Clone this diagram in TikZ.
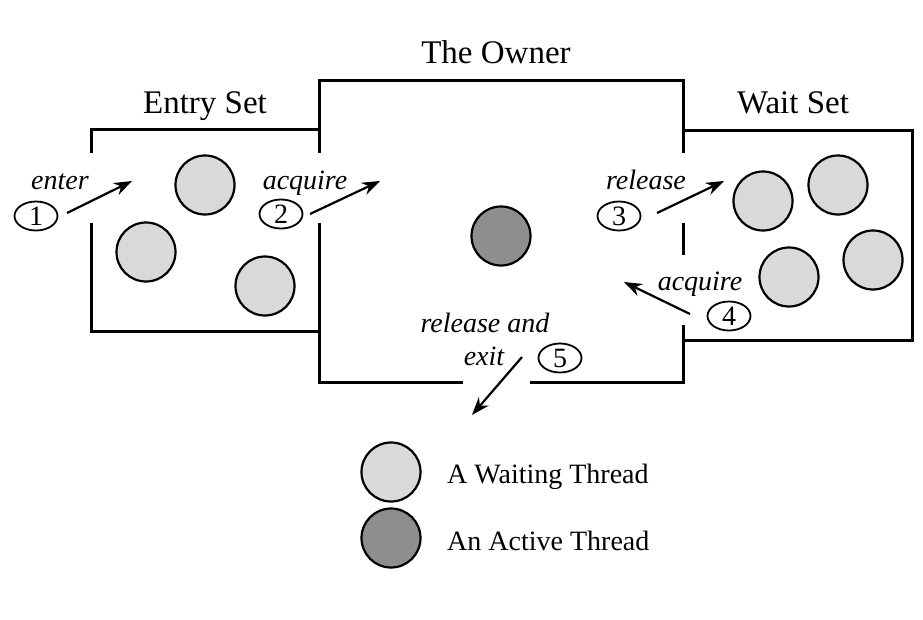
\documentclass[tikz,border=0pt]{standalone}
\usepackage{fontspec}
\setmainfont{Liberation Serif}
\usetikzlibrary{arrows.meta,shapes.geometric}
\definecolor{waitfill}{HTML}{D9D9D9}
\definecolor{activefill}{HTML}{8E8E8E}
\tikzset{
  boxline/.style={line width=3pt, line cap=butt},
  thread/.style={circle, draw, line width=2.2pt, minimum size=59pt, inner sep=0pt},
  waiting/.style={thread, fill=waitfill},
  active/.style={thread, fill=activefill},
  numtag/.style={ellipse, draw, line width=1.8pt, minimum width=43pt, minimum height=29pt, inner sep=0pt, font=\fontsize{28}{30}\selectfont},
  lbl/.style={font=\fontsize{28}{30}\selectfont\itshape, inner sep=0pt, anchor=base},
  header/.style={font=\fontsize{33}{36}\selectfont, inner sep=0pt, anchor=base},
  legendtxt/.style={font=\fontsize{28}{30}\selectfont, inner sep=0pt, anchor=base west},
  flow/.style={line width=2.2pt, -{Stealth[length=18pt,width=13pt]}}
}
\begin{document}
\begin{tikzpicture}[x=1pt,y=-1pt]
\useasboundingbox (0,0) rectangle (923,619);
% boxes
\draw[boxline] (319,129) -- (91,129) -- (91,153);
\draw[boxline] (91,223) -- (91,331) -- (319,331);
\draw[boxline] (319,153) -- (319,80) -- (683,80) -- (683,153);
\draw[boxline] (683,223) -- (683,255);
\draw[boxline] (683,325) -- (683,382) -- (530,382);
\draw[boxline] (463,382) -- (319,382) -- (319,223);
\draw[boxline] (683,130) -- (912,130) -- (912,340) -- (683,340);
% headers
\node[header] (hEntry) at (205,113) {Entry Set};
\node[header] (hOwner) at (496,63) {The Owner};
\node[header] (hWait) at (793,113) {Wait Set};
% threads
\node[waiting] (e1) at (205,185) {};
\node[waiting] (e2) at (146,252) {};
\node[waiting] (e3) at (265,286) {};
\node[active] (o1) at (501,236) {};
\node[waiting] (w1) at (763,201) {};
\node[waiting] (w2) at (838,185) {};
\node[waiting] (w3) at (873,260) {};
\node[waiting] (w4) at (789,277) {};
% labels and tags
\node[lbl] (tEnter) at (60,189) {enter};
\node[numtag] (n1) at (36,216) {1};
\node[lbl] (tAcq2) at (305,189) {acquire};
\node[numtag] (n2) at (281,214) {2};
\node[lbl] (tRel3) at (646,189) {release};
\node[numtag] (n3) at (619,216) {3};
\node[lbl] (tAcq4) at (700,290) {acquire};
\node[numtag] (n4) at (729,316) {4};
\node[lbl] (tRel5) at (485,332) {release and};
\node[lbl] (tExit) at (484,365) {exit};
\node[numtag] (n5) at (560,358) {5};
% arrow ends
\coordinate (s1) at (67,213);  \coordinate (t1) at (132,181);
\coordinate (s2) at (310,214); \coordinate (t2) at (380,181);
\coordinate (s3) at (657,213); \coordinate (t3) at (724,181);
\coordinate (s4) at (690,314); \coordinate (t4) at (624,282);
\coordinate (s5) at (522,357); \coordinate (t5) at (472,415);
\draw[flow] (s1) -- (t1);
\draw[flow] (s2) -- (t2);
\draw[flow] (s3) -- (t3);
\draw[flow] (s4) -- (t4);
\draw[flow] (s5) -- (t5);
% legend
\node[waiting] (lw) at (391,472) {};
\node[active] (la) at (391,538) {};
\node[legendtxt] (lwt) at (447,483) {A Waiting Thread};
\node[legendtxt] (lat) at (447,550) {An Active Thread};
\end{tikzpicture}
\end{document}
